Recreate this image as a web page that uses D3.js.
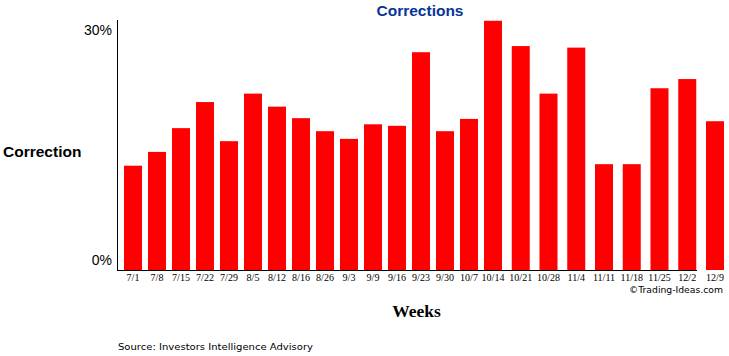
<!DOCTYPE html>
<html>
<head>
<meta charset="utf-8">
<script src="https://cdn.jsdelivr.net/npm/d3@7"></script>
<style>
  html, body { margin: 0; padding: 0; background: #fff; }
  svg { display: block; }
</style>
</head>
<body>
<svg id="chart" width="729" height="356"></svg>
<script>
const weeks = ["7/1","7/8","7/15","7/22","7/29","8/5","8/12","8/16","8/26","9/3","9/9","9/16","9/23","9/30","10/7","10/14","10/21","10/28","11/4","11/11","11/18","11/25","12/2","12/9"];
const corrections = [13.6,15.4,18.5,21.9,16.8,23.0,21.3,19.8,18.1,17.1,19.0,18.8,28.4,18.1,19.7,32.5,29.2,23.0,29.0,13.8,13.8,23.7,24.9,19.4];
const yTicks = [0, 30];
const yTickLabels = ["0%", "30%"];

const svg = d3.select("#chart");
const plotTop = 20, plotBottom = 270, axisX = 117;
const barW = 18;
const firstBar = 124, breakBar = 484, lastBar = 706, breakIdx = 15;

// bar slots are spaced slightly wider after 10/14 in the original
const x = d3.scaleLinear()
  .domain([0, breakIdx, weeks.length - 1])
  .range([firstBar, breakBar, lastBar]);
const y = d3.scaleLinear().domain([0, 32.6]).range([plotBottom, plotTop]);

// bars
svg.append("g").selectAll("rect").data(corrections).join("rect")
  .attr("x", (d, i) => x(i))
  .attr("y", d => y(d))
  .attr("width", barW)
  .attr("height", d => y(0) - y(d))
  .attr("fill", "#ff0000");

// axes lines
svg.append("line").attr("x1", axisX + 0.5).attr("x2", axisX + 0.5)
  .attr("y1", plotTop).attr("y2", plotBottom + 1)
  .attr("stroke", "#000").attr("stroke-width", 1);
svg.append("line").attr("x1", axisX).attr("x2", 697)
  .attr("y1", plotBottom + 0.5).attr("y2", plotBottom + 0.5)
  .attr("stroke", "#000").attr("stroke-width", 1);

// y tick labels
svg.append("g").selectAll("text").data(yTicks).join("text")
  .attr("x", 112)
  .attr("y", d => y(d) - 5)
  .attr("text-anchor", "end")
  .attr("font-family", "'Liberation Sans', Arial, sans-serif")
  .attr("font-size", 14)
  .attr("fill", "#000")
  .text((d, i) => yTickLabels[i]);

// x tick labels
svg.append("g").selectAll("text").data(weeks).join("text")
  .attr("x", (d, i) => x(i) + barW / 2)
  .attr("y", 281)
  .attr("text-anchor", "middle")
  .attr("font-family", "'Liberation Serif', 'Times New Roman', serif")
  .attr("font-size", 10)
  .attr("fill", "#000")
  .text(d => d);

// title
svg.append("text").attr("x", 420).attr("y", 16)
  .attr("text-anchor", "middle")
  .attr("font-family", "'Liberation Sans', Arial, sans-serif")
  .attr("font-weight", "bold").attr("font-size", 15.5)
  .attr("fill", "#0a3399")
  .text("Corrections");

// y axis title
svg.append("text").attr("x", 3).attr("y", 157)
  .attr("font-family", "'Liberation Sans', Arial, sans-serif")
  .attr("font-weight", "bold").attr("font-size", 15.5)
  .attr("fill", "#000")
  .text("Correction");

// x axis title
svg.append("text").attr("x", 416.5).attr("y", 317)
  .attr("text-anchor", "middle")
  .attr("font-family", "'Liberation Serif', 'Times New Roman', serif")
  .attr("font-weight", "bold").attr("font-size", 17.5)
  .attr("fill", "#000")
  .text("Weeks");

// copyright
svg.append("text").attr("x", 723).attr("y", 293)
  .attr("text-anchor", "end")
  .attr("font-family", "'DejaVu Sans', Verdana, sans-serif")
  .attr("font-size", 9.5)
  .attr("textLength", 94).attr("lengthAdjust", "spacingAndGlyphs")
  .attr("fill", "#000")
  .text("©Trading-Ideas.com");

// source
svg.append("text").attr("x", 118).attr("y", 350)
  .attr("font-family", "'DejaVu Sans', Verdana, sans-serif")
  .attr("font-size", 9.5)
  .attr("textLength", 195).attr("lengthAdjust", "spacingAndGlyphs")
  .attr("fill", "#000")
  .text("Source: Investors Intelligence Advisory");
</script>
</body>
</html>
